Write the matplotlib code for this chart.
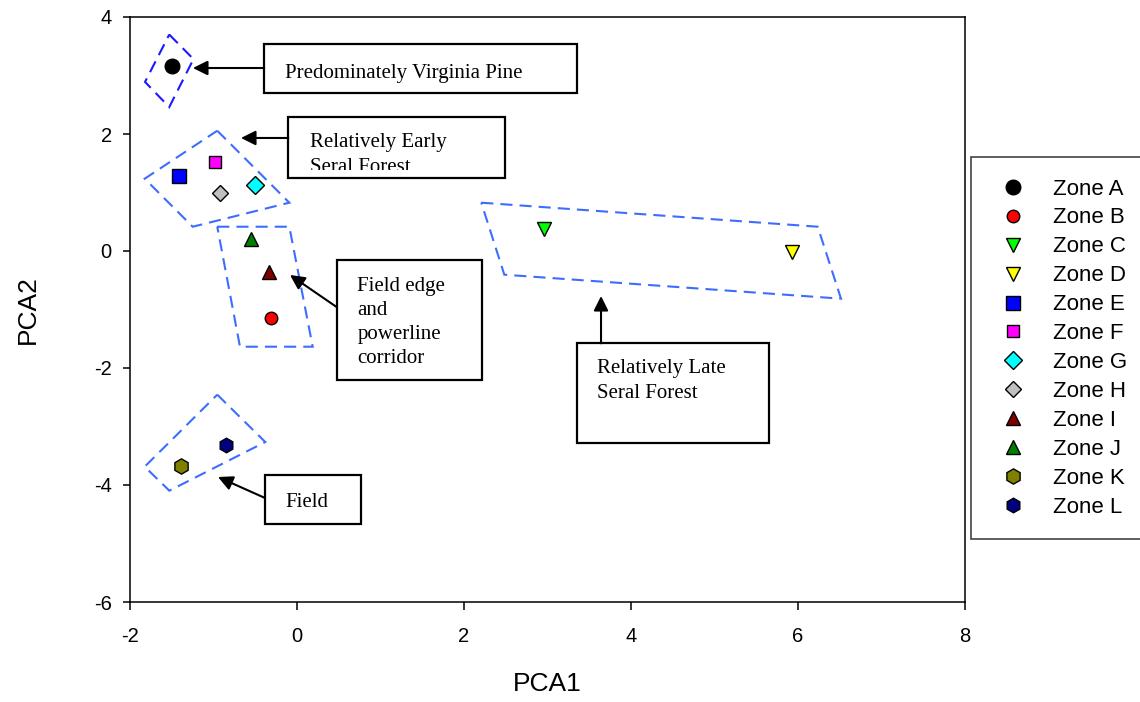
import matplotlib
matplotlib.use("Agg")
import matplotlib.pyplot as plt
from matplotlib.patches import Polygon, Rectangle
from matplotlib.transforms import offset_copy

# ---------------- data ----------------
zones = ["Zone A", "Zone B", "Zone C", "Zone D", "Zone E", "Zone F",
         "Zone G", "Zone H", "Zone I", "Zone J", "Zone K", "Zone L"]
pca1 = [-1.50, -0.31, 2.96, 5.93, -1.41, -0.98, -0.50, -0.92, -0.34, -0.55, -1.39, -0.85]
pca2 = [3.16, -1.15, 0.38, -0.02, 1.28, 1.52, 1.13, 0.99, -0.36, 0.21, -3.68, -3.32]
markers = ["o", "o", "v", "v", "s", "s", "D", "D", "^", "^", "h", "h"]
sizes = [10.5, 9, 10.5, 10, 10, 9, 9.5, 8.5, 10.5, 10, 11, 10.5]
colors = ["#000000", "#ff0000", "#00ff00", "#ffff00", "#0000ff", "#ff00ff",
          "#00ffff", "#c0c0c0", "#800000", "#008000", "#808000", "#000080"]

# group outlines (data coordinates)
groups = [
    [(-1.53, 3.70), (-1.24, 3.28), (-1.53, 2.46), (-1.82, 2.89)],
    [(-0.955, 2.056), (-0.092, 0.826), (-1.249, 0.415), (-1.824, 1.236)],
    [(-0.955, 0.415), (-0.092, 0.415), (0.188, -1.636), (-0.683, -1.636)],
    [(2.207, 0.826), (6.236, 0.415), (6.515, -0.815), (2.483, -0.405)],
    [(-0.955, -2.456), (-0.380, -3.265), (-1.529, -4.097), (-1.824, -3.687)],
]
group_colors = ["#1a1aff", "#3d6dff", "#3d6dff", "#3d6dff", "#3d6dff"]

# annotation boxes: lines, box (x0, x1, ytop, ybottom), first-baseline pos, line step (px), arrow tail, arrow tip
notes = [
    (["Predominately Virginia Pine"], (-0.392, 3.349, 3.533, 2.696), (-0.144, 2.962), 0, (-0.392, 3.128), (-1.246, 3.128)),
    (["Relatively Early", "Seral Forest"], (-0.104, 2.491, 2.296, 1.243), (0.156, 1.783), 25.5, (-0.104, 1.932), (-0.671, 1.932)),
    (["Field edge", "and", "powerline", "corridor"], (0.474, 2.211, -0.154, -2.205), (0.722, -0.680), 24, (0.474, -0.957), (-0.084, -0.410)),
    (["Relatively Late", "Seral Forest"], (3.349, 5.656, -1.578, -3.287), (3.589, -2.085), 25, (3.641, -1.578), (3.641, -0.769)),
    (["Field"], (-0.383, 0.766, -3.829, -4.667), (-0.144, -4.371), 0, (-0.383, -4.222), (-0.946, -3.863)),
]
early_clip_y = 1.385

xticks = [-2, 0, 2, 4, 6, 8]
yticks = [-6, -4, -2, 0, 2, 4]

# ---------------- figure ----------------
plt.rcParams["font.family"] = ["Liberation Sans", "DejaVu Sans"]
fig = plt.figure(figsize=(11.4, 7.02), dpi=100)
ax = fig.add_axes([130 / 1140, 1 - 602 / 702, (965 - 130) / 1140, (602 - 17) / 702])
ax.set_xlim(-2, 8)
ax.set_ylim(-6, 4)
ax.set_xticks(xticks)
ax.set_yticks(yticks)
ax.set_xticklabels([str(t) for t in xticks])
ax.set_yticklabels([str(t) for t in yticks])
ax.tick_params(direction="out", width=1.1, labelsize=14.5, top=False, right=False)
ax.tick_params(axis="x", length=6, pad=12)
ax.tick_params(axis="y", length=5.2, pad=8)
for s in ax.spines.values():
    s.set_linewidth(1.1)

for pts, c in zip(groups, group_colors):
    ax.add_patch(Polygon(pts, closed=True, fill=False, edgecolor=c, lw=1.5,
                         linestyle=(0, (5.8, 3.4)), zorder=2))

for i in range(len(zones)):
    ax.plot(pca1[i], pca2[i], linestyle="none", marker=markers[i], ms=sizes[i],
            mfc=colors[i], mec="black", mew=1.0, label=zones[i], zorder=4)

for lines, (x0, x1, yt, yb), (tx, ty), step, tail, tip in notes:
    ax.add_patch(Rectangle((x0, yb), x1 - x0, yt - yb, fill=True, facecolor="white",
                           edgecolor="black", lw=1.6, zorder=3))
    clip = None
    if lines[0] == "Relatively Early":
        clip = Rectangle((x0, early_clip_y), x1 - x0, yt - early_clip_y, transform=ax.transData)
    for k, line in enumerate(lines):
        tr = offset_copy(ax.transData, fig=fig, x=0, y=-k * step, units="dots")
        t = ax.text(tx, ty, line, family=["Liberation Serif", "DejaVu Serif"],
                    fontsize=15, ha="left", va="baseline", transform=tr, zorder=5)
        if clip is not None:
            t.set_clip_on(True)
            t.set_clip_path(clip)
    ax.annotate("", xy=tip, xytext=tail,
                arrowprops=dict(arrowstyle="-|>", color="black", lw=1.5,
                                mutation_scale=22, shrinkA=0, shrinkB=0),
                zorder=5)

ax.set_xlabel("PCA1", fontsize=19, labelpad=19)
ax.set_ylabel("PCA2", fontsize=19, labelpad=39)

fs = 16
leg = ax.legend(loc="upper left", bbox_to_anchor=(971 / 1140, 1 - 157 / 702),
                bbox_transform=fig.transFigure, fontsize=fs, frameon=True,
                fancybox=False, edgecolor="black", borderpad=0.97,
                handlelength=1.85, handletextpad=0.89, labelspacing=0.357,
                borderaxespad=0)
leg.get_frame().set_linewidth(1.1)

fig.savefig("out.png", dpi=100)
